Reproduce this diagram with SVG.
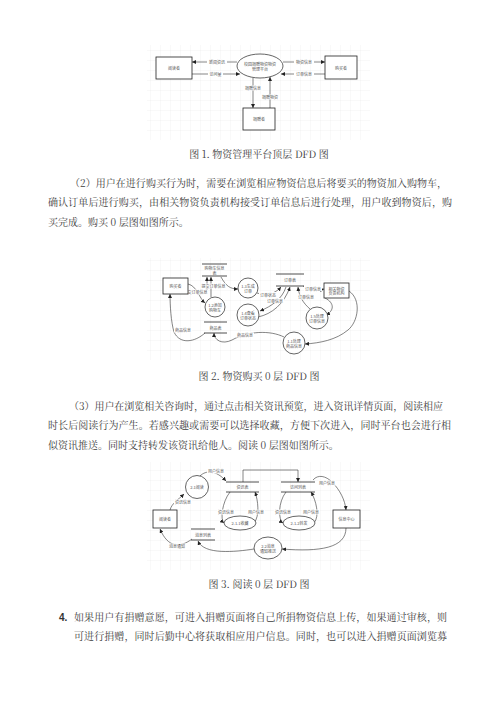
<svg xmlns="http://www.w3.org/2000/svg" width="500" height="707" viewBox="0 0 500 707">
<defs>
<pattern id="grid" width="10" height="10" patternUnits="userSpaceOnUse">
<path d="M10 0H0V10" fill="none" stroke="#e6e6e6" stroke-width="0.5"/>
</pattern>
<marker id="ah" viewBox="0 0 10 10" refX="10" refY="5" markerWidth="4" markerHeight="4" markerUnits="userSpaceOnUse" orient="auto">
<path d="M0 0L10 5L0 10z" fill="#222"/>
</marker>
<style>
.body{font-family:"Noto Serif CJK SC","Noto Sans CJK SC","Liberation Serif",serif;font-size:10px;fill:#3c3c3c}
.cap{font-family:"Noto Serif CJK SC","Noto Sans CJK SC","Liberation Serif",serif;font-size:10px;fill:#3c3c3c;text-anchor:middle}
.lb{font-family:"Noto Sans CJK SC","Liberation Sans",sans-serif;font-size:4px;fill:#555;text-anchor:middle;dominant-baseline:central}
.box{fill:#fff;stroke:#222;stroke-width:0.8}
.nd{fill:#fff;stroke:#222;stroke-width:0.7}
.st{stroke:#222;stroke-width:0.8}
.cn{fill:none;stroke:#333;stroke-width:0.6;marker-end:url(#ah)}
.bg{fill:#fff}
</style>
</defs>
<rect width="500" height="707" fill="#fff"/>

<!-- grids -->
<rect x="147" y="45" width="223" height="95" fill="url(#grid)"/>
<rect x="147" y="258" width="223" height="102" fill="url(#grid)"/>
<rect x="147" y="462" width="223" height="108" fill="url(#grid)"/>

<!-- ===== Diagram 1 ===== -->
<g id="d1-connectors">
<path class="cn" d="M237 62H192"/>
<path class="cn" d="M192 74H240"/>
<path class="cn" d="M283 62H325"/>
<path class="cn" d="M325 74H281"/>
<path class="cn" d="M253 78V108"/>
<path class="cn" d="M270 108V77"/>
<rect class="bg" x="207" y="59.5" width="20" height="5"/><text class="lb" x="217" y="62">新闻资讯</text>
<rect class="bg" x="208" y="71.5" width="15" height="5"/><text class="lb" x="215.5" y="74">访问量</text>
<rect class="bg" x="294" y="59.5" width="20" height="5"/><text class="lb" x="304" y="62">物资信息</text>
<rect class="bg" x="294" y="71.5" width="20" height="5"/><text class="lb" x="304" y="74">订单信息</text>
<rect class="bg" x="243" y="85.5" width="20" height="5"/><text class="lb" x="253" y="88">捐赠信息</text>
<rect class="bg" x="260" y="94.5" width="20" height="5"/><text class="lb" x="270" y="97">捐赠物资</text>
</g>
<g id="d1-reader"><rect class="box" x="156" y="57" width="36" height="22"/><text class="lb" x="174" y="68">阅读者</text></g>
<g id="d1-platform"><ellipse class="nd" cx="260" cy="66" rx="23" ry="12"/><text class="lb" x="260" y="63.5">校园捐赠物资物资</text><text class="lb" x="260" y="68.5">管理平台</text></g>
<g id="d1-buyer"><rect class="box" x="325" y="56" width="32" height="23"/><text class="lb" x="341" y="67.5">购买者</text></g>
<g id="d1-donor"><rect class="box" x="243" y="108" width="32" height="22"/><text class="lb" x="259" y="119">捐赠者</text></g>

<text class="cap" x="259" y="157.5">图 1. 物资管理平台顶层 DFD 图</text>

<text class="body" x="70" y="186.5" textLength="377" lengthAdjust="spacing">（2）用户在进行购买行为时，需要在浏览相应物资信息后将要买的物资加入购物车，</text>
<text class="body" x="48" y="205.5" textLength="404" lengthAdjust="spacing">确认订单后进行购买，由相关物资负责机构接受订单信息后进行处理，用户收到物资后，购</text>
<text class="body" x="48" y="225.5">买完成。购买 0 层图如图所示。</text>

<!-- ===== Diagram 2 ===== -->
<g id="d2-connectors">
<path class="cn" d="M188 284C197 286 199 298 205 303"/>
<path class="cn" d="M211 297V277"/>
<path class="cn" d="M207 290V277"/>
<path class="cn" d="M221 277C226 286 230 289 238 289"/>
<path class="cn" d="M257 293C266 296 275 294 281 287"/>
<path class="cn" d="M286 287C282 299 272 306 260 311"/>
<path class="cn" d="M258 317C272 314 284 304 290 287"/>
<path class="cn" d="M310 309C303 303 299 296 298 287"/>
<path class="cn" d="M303 286C310 291 316 291 324 289"/>
<path class="cn" d="M325 298C335 303 334 311 326 315"/>
<path class="cn" d="M349 291C362 300 358 322 348 330C336 340 320 343 305 344"/>
<path class="cn" d="M284 337C270 330 248 331 232 340C222 345 214 340 214 333"/>
<path class="cn" d="M205 333C195 342 180 345 174 332C171 322 170 305 170 294"/>
<rect class="bg" x="201" y="283.5" width="25" height="5"/><text class="lb" x="213.5" y="286">提交订单信息</text>
<rect class="bg" x="183" y="289.5" width="25" height="5"/><text class="lb" x="195.5" y="292">提交订单信息</text>
<rect class="bg" x="259" y="292" width="18" height="5"/><text class="lb" x="268" y="294.5">订单状态</text>
<rect class="bg" x="266" y="298" width="18" height="5"/><text class="lb" x="275" y="300.5">订单信息</text>
<rect class="bg" x="297" y="294.5" width="18" height="5"/><text class="lb" x="306" y="297">订单信息</text>
<rect class="bg" x="304" y="286" width="18" height="5"/><text class="lb" x="313" y="288.5">订单信息</text>
<rect class="bg" x="236" y="332.5" width="18" height="5"/><text class="lb" x="245" y="335">商品信息</text>
<rect class="bg" x="174" y="327.5" width="18" height="5"/><text class="lb" x="183" y="330">商品信息</text>
</g>
<g id="d2-buyer"><rect class="box" x="163" y="278" width="25" height="16"/><text class="lb" x="175.5" y="286">购买者</text></g>
<g id="d2-cart"><line class="st" x1="202" y1="264" x2="227" y2="264"/><line class="st" x1="202" y1="276" x2="227" y2="276"/><text class="lb" x="214.5" y="268">购物车信息</text><text class="lb" x="214.5" y="272.5">表</text></g>
<g id="d2-p12"><circle class="nd" cx="215" cy="307" r="10"/><text class="lb" x="215" y="305">1.2添加</text><text class="lb" x="215" y="309.5">购物车</text></g>
<g id="d2-p13"><circle class="nd" cx="248" cy="288" r="10"/><text class="lb" x="248" y="286">1.3生成</text><text class="lb" x="248" y="290.5">订单</text></g>
<g id="d2-order"><line class="st" x1="276" y1="274" x2="304" y2="274"/><line class="st" x1="276" y1="286" x2="304" y2="286"/><text class="lb" x="290" y="280">订单表</text></g>
<g id="d2-org"><rect class="box" x="324" y="283" width="25" height="15"/><text class="lb" x="336.5" y="288.5">相关物资</text><text class="lb" x="336.5" y="293">负责机构</text></g>
<g id="d2-p14"><circle class="nd" cx="248" cy="315" r="11"/><text class="lb" x="248" y="313">1.4查看</text><text class="lb" x="248" y="317.5">订单状态</text></g>
<g id="d2-p15"><circle class="nd" cx="317" cy="318" r="11"/><text class="lb" x="317" y="316">1.5处理</text><text class="lb" x="317" y="320.5">订单信息</text></g>
<g id="d2-p11"><circle class="nd" cx="294" cy="343" r="11"/><text class="lb" x="294" y="341">1.1处理</text><text class="lb" x="294" y="345.5">商品信息</text></g>
<g id="d2-goods"><line class="st" x1="204" y1="322" x2="227" y2="322"/><line class="st" x1="204" y1="333" x2="227" y2="333"/><text class="lb" x="215.5" y="327.5">商品表</text></g>

<text class="cap" x="259" y="379.5">图 2. 物资购买 0 层 DFD 图</text>

<text class="body" x="69" y="409.5" textLength="374" lengthAdjust="spacing">（3）用户在浏览相关咨询时，通过点击相关资讯预览，进入资讯详情页面，阅读相应</text>
<text class="body" x="48" y="428.5" textLength="403" lengthAdjust="spacing">时长后阅读行为产生。若感兴趣或需要可以选择收藏，方便下次进入，同时平台也会进行相</text>
<text class="body" x="48" y="448.5">似资讯推送。同时支持转发该资讯给他人。阅读 0 层图如图所示。</text>

<!-- ===== Diagram 3 ===== -->
<g id="d3-connectors">
<path class="cn" d="M243 482V470H298V482"/>
<path class="cn" d="M200 476C206 470 216 470 226 481"/>
<path class="cn" d="M170 510C172 503 178 500 184 494"/>
<path class="cn" d="M313 480C318 474 326 476 332 482C340 490 345 500 346 510"/>
<path class="cn" d="M230 492C222 502 220 520 224 523"/>
<path class="cn" d="M254 523C260 516 258 500 255 492"/>
<path class="cn" d="M286 492C278 502 278 520 283 523"/>
<path class="cn" d="M314 523C320 516 316 500 311 492"/>
<path class="cn" d="M346 528C346 548 320 552 282 549"/>
<path class="cn" d="M254 549C235 552 204 555 198 541"/>
<path class="cn" d="M192 539C180 548 168 548 160 529"/>
<rect class="bg" x="207" y="468.5" width="18" height="5"/><text class="lb" x="216" y="471">用户信息</text>
<rect class="bg" x="174" y="499.5" width="18" height="5"/><text class="lb" x="183" y="502">资讯信息</text>
<rect class="bg" x="318" y="480.5" width="18" height="5"/><text class="lb" x="327" y="483">用户信息</text>
<rect class="bg" x="217" y="509.5" width="18" height="5"/><text class="lb" x="226" y="512">资讯信息</text>
<rect class="bg" x="247" y="509.5" width="18" height="5"/><text class="lb" x="256" y="512">用户信息</text>
<rect class="bg" x="274" y="509.5" width="18" height="5"/><text class="lb" x="283" y="512">资讯信息</text>
<rect class="bg" x="302" y="509.5" width="18" height="5"/><text class="lb" x="311" y="512">用户信息</text>
<rect class="bg" x="168" y="543.5" width="18" height="5"/><text class="lb" x="177" y="546">消息通知</text>
</g>
<g id="d3-reader"><rect class="box" x="153" y="510" width="24" height="18"/><text class="lb" x="165" y="519">阅读者</text></g>
<g id="d3-p21"><circle class="nd" cx="197" cy="487" r="11.5"/><text class="lb" x="197" y="487">2.1阅读</text></g>
<g id="d3-news"><line class="st" x1="226" y1="482" x2="259" y2="482"/><line class="st" x1="226" y1="492" x2="259" y2="492"/><text class="lb" x="242.5" y="487">资讯表</text></g>
<g id="d3-visit"><line class="st" x1="281" y1="482" x2="315" y2="482"/><line class="st" x1="281" y1="492" x2="315" y2="492"/><text class="lb" x="298" y="487">访问列表</text></g>
<g id="d3-center"><rect class="box" x="333" y="510" width="27" height="18"/><text class="lb" x="346.5" y="519">信息中心</text></g>
<g id="d3-p211"><ellipse class="nd" cx="240" cy="523" rx="16" ry="7"/><text class="lb" x="240" y="523">2.1.1收藏</text></g>
<g id="d3-p212"><ellipse class="nd" cx="299" cy="523" rx="16" ry="7"/><text class="lb" x="299" y="523">2.1.2转发</text></g>
<g id="d3-msg"><line class="st" x1="191" y1="529" x2="215" y2="529"/><line class="st" x1="191" y1="540" x2="215" y2="540"/><text class="lb" x="203" y="534.5">消息列表</text></g>
<g id="d3-p22"><ellipse class="nd" cx="268" cy="548" rx="14" ry="11"/><text class="lb" x="268" y="546">2.2消息</text><text class="lb" x="268" y="550.5">通知推送</text></g>

<text class="cap" x="259" y="587.5">图 3. 阅读 0 层 DFD 图</text>

<text x="59" y="621" style="font-family:'Liberation Sans',sans-serif;font-size:10px;font-weight:bold;fill:#333">4.</text>
<text class="body" x="74" y="621" textLength="373" lengthAdjust="spacing">如果用户有捐赠意愿，可进入捐赠页面将自己所捐物资信息上传，如果通过审核，则</text>
<text class="body" x="74" y="640" textLength="373" lengthAdjust="spacing">可进行捐赠，同时后勤中心将获取相应用户信息。同时，也可以进入捐赠页面浏览募</text>
</svg>
